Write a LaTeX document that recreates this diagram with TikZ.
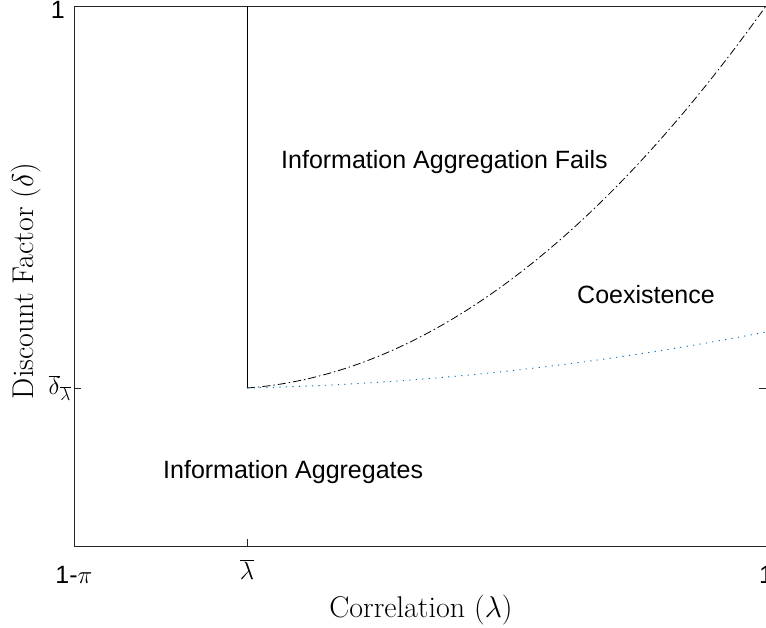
\RequirePackage{fix-cm}
\documentclass[tikz,border=0pt]{standalone}
\usepackage{fontspec}
\newfontfamily\helv{Liberation Sans}
\definecolor{mblue}{rgb}{0,0.447,0.741}

\begin{document}
\begin{tikzpicture}[x=1pt,y=-1pt,
        axisline/.style={line width=0.8pt, draw=black!85},
        border/.style={line width=0.8pt, draw=black},
        region/.style={font=\helv\fontsize{25}{30}\selectfont, inner sep=0pt, anchor=base west},
        ticklab/.style={font=\helv\fontsize{25}{30}\selectfont, inner sep=0pt},
        axlab/.style={font=\fontsize{30}{36}\selectfont, inner sep=0pt, anchor=base}]
            \useasboundingbox (0,0) rectangle (766,628);
            \clip (0,0) rectangle (766,628);

            \draw[axisline] (74,6) rectangle (766.5,546);
            \draw[axisline] (247,546) -- (247,539);
            \draw[axisline] (74,388) -- (81,388);
            \draw[axisline] (766,388) -- (759,388);

            \coordinate (kink) at (247,388);
            \coordinate (top) at (247,6);
            \draw[border] (top) -- (kink);
            \draw[border, dash pattern=on 8pt off 3pt on 1.5pt off 3pt]
                plot[domain=0:1, samples=80] ({247+519*\x},{388-382*(0.1*\x+0.9*\x*\x)});
            \draw[mblue, line width=0.9pt, dash pattern=on 1.2pt off 5.3pt]
                plot[domain=0:1, samples=80] ({247+519*\x},{388-56*(0.2*\x+0.8*\x*\x)});

            \node[region] (fails) at (281,169) {Information Aggregation Fails};
            \node[region] (coexist) at (577,304) {Coexistence};
            \node[region] (aggr) at (163,478) {Information Aggregates};

            \node[ticklab, anchor=base east] (ytop) at (65,19) {1};
            \node[ticklab, anchor=base east] (ydelta) at (71,395) {$\overline{\delta}_{\overline{\lambda}}$};
            \node[ticklab, anchor=base] (xlow) at (74,583) {1-$\pi$};
            \node[ticklab, anchor=base] (xbar) at (247,579) {$\overline{\lambda}$};
            \node[ticklab, anchor=base] (xhigh) at (766,583) {1};

            \node[axlab] (xlabel) at (421,617) {Correlation ($\lambda$)};
            \node[axlab, rotate=90] (ylabel) at (33,281) {Discount Factor ($\delta$)};
        \end{tikzpicture}
\end{document}
